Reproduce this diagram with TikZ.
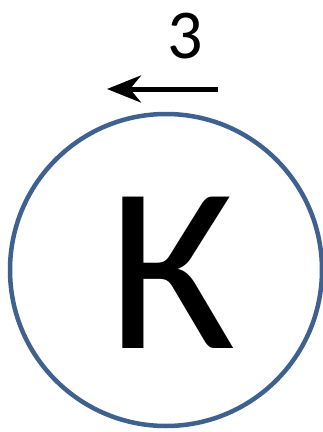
\documentclass[tikz,border=0pt]{standalone}
\usepackage{fontspec}
\setmainfont{Carlito}
\usetikzlibrary{arrows.meta}
\definecolor{ringblue}{HTML}{3F6190}
\begin{document}
\begin{tikzpicture}[x=1pt,y=-1pt,
  ring/.style={circle,draw=ringblue,line width=4.5pt,minimum size=312pt,inner sep=0pt},
  arrowline/.style={line width=5pt,-{Stealth[length=34pt,width=27pt,inset=11pt]}}]
\useasboundingbox (0,0) rectangle (323,432);
\node[ring] (c) at (166,270) {};
\node[font=\fontsize{236}{236}\selectfont,anchor=base] (k) at (172,348) {К};
\node[font=\fontsize{70}{70}\selectfont,anchor=base] (n) at (185,58) {3};
\coordinate (s) at (218,89);
\coordinate (e) at (107,89);
\draw[arrowline] (s) -- (e);
\end{tikzpicture}
\end{document}
